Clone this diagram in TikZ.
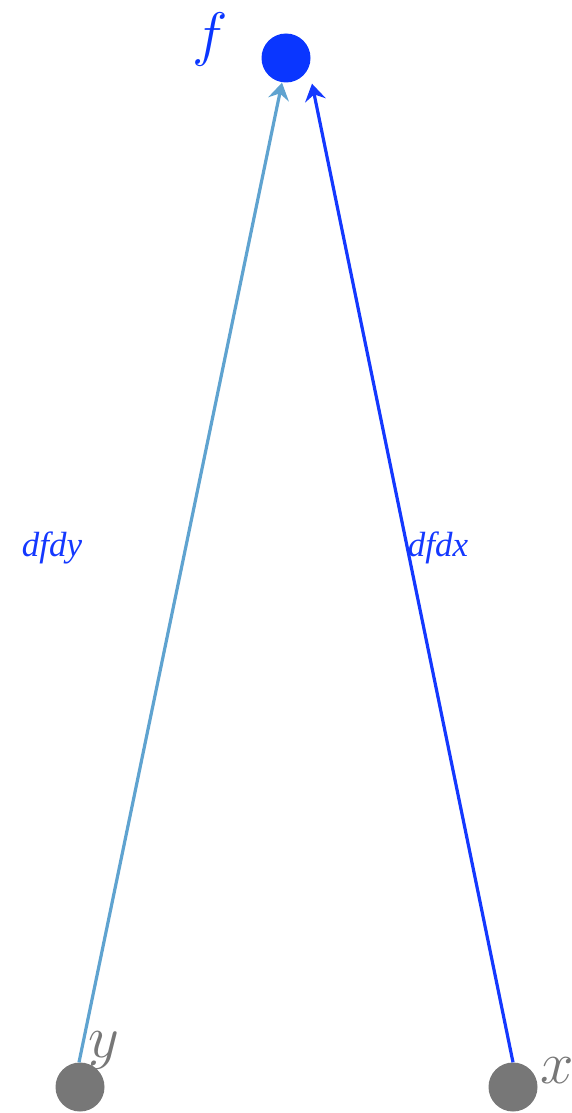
\RequirePackage{fix-cm}
\documentclass[tikz,border=0pt]{standalone}
\usepackage{fontspec}
\newfontfamily\labfont{Liberation Serif}
\usetikzlibrary{arrows.meta}
\definecolor{fblue}{HTML}{0A36FF}
\definecolor{eblue}{HTML}{1438FF}
\definecolor{lblue}{HTML}{5FA3D0}
\definecolor{vgray}{HTML}{777777}
\tikzset{
  vert/.style={circle, minimum size=49pt, inner sep=0pt, draw=none},
  vlabel/.style={inner sep=0pt, font=\fontsize{60}{60}\selectfont},
  elabel/.style={inner sep=0pt, text=eblue, font=\labfont\itshape\fontsize{35}{35}\selectfont},
  edge/.style={line width=3.2pt, -{Stealth[length=17pt,width=21pt,inset=6pt]}},
}
\begin{document}
\begin{tikzpicture}[x=1pt,y=-1pt]
\useasboundingbox (0,0) rectangle (572,1113);
\node[vert, fill=fblue] (f) at (286,58) {};
\node[vert, fill=vgray] (y) at (80,1087) {};
\node[vert, fill=vgray] (x) at (513,1087) {};
\node[vlabel, text=fblue] (fl) at (210,40) {$f$};
\node[vlabel, text=vgray] (yl) at (104,1050) {$y$};
\node[vlabel, text=vgray] (xl) at (557,1071) {$x$};
\draw[edge, lblue] ([xshift=-1pt]y.north) -- ([xshift=-4pt]f.south);
\draw[edge, eblue] (x.north) -- ([xshift=26pt,yshift=-1pt]f.south);
\node[elabel] (ly) at (52,548) {dfdy};
\node[elabel] (lx) at (438,548) {dfdx};
\end{tikzpicture}
\end{document}
